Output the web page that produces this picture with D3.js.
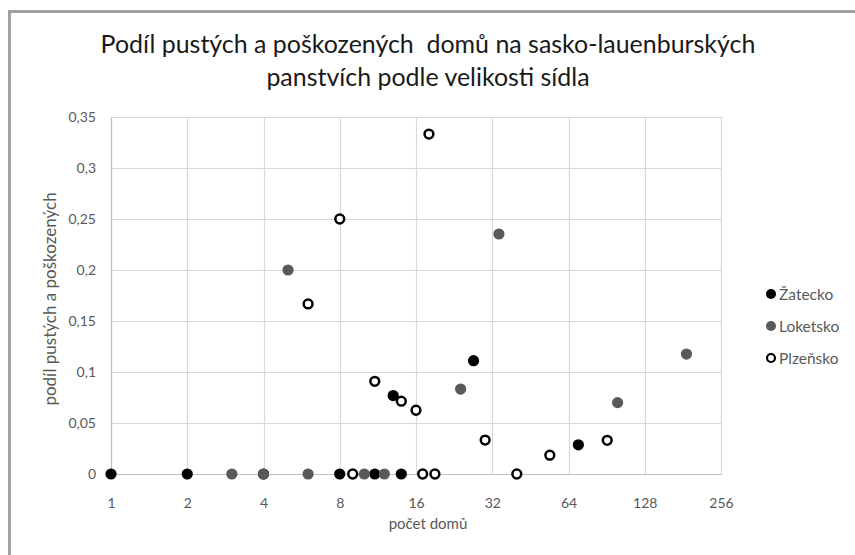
<!DOCTYPE html>
<html><head><meta charset="utf-8">
<script src="https://cdn.jsdelivr.net/npm/d3@7"></script>
<style>html,body{margin:0;padding:0;background:#fff;}svg{display:block;}</style>
</head><body>
<svg id="c" width="855" height="555"></svg>
<script>
// ---- data ----
const seriesNames = ["Žatecko", "Loketsko", "Plzeňsko"];
const zateckoX = [1, 2, 4, 8, 11, 14, 13, 27, 70];
const zateckoY = [0, 0, 0, 0, 0, 0, 0.0769, 0.1111, 0.0286];
const loketskoX = [3, 4, 5, 6, 10, 12, 24, 34, 100, 187];
const loketskoY = [0, 0, 0.2, 0, 0, 0, 0.0833, 0.2353, 0.07, 0.1176];
const plzenskoX = [6, 8, 9, 11, 14, 16, 17, 18, 19, 30, 40, 54, 91];
const plzenskoY = [0.1667, 0.25, 0, 0.0909, 0.0714, 0.0625, 0, 0.3333, 0, 0.0333, 0, 0.0185, 0.033];
const xTicks = [1, 2, 4, 8, 16, 32, 64, 128, 256];
const yTicks = [0, 0.05, 0.1, 0.15, 0.2, 0.25, 0.3, 0.35];
const titleLines = ["Podíl pustých a poškozených  domů na sasko-lauenburských", "panstvích podle velikosti sídla"];
const xTitle = "počet domů";
const yTitle = "podíl pustých a poškozených";

const series = [
  {name: seriesNames[0], xs: zateckoX, ys: zateckoY, fill: "#000000", stroke: "none"},
  {name: seriesNames[1], xs: loketskoX, ys: loketskoY, fill: "#595959", stroke: "none"},
  {name: seriesNames[2], xs: plzenskoX, ys: plzenskoY, fill: "#ffffff", stroke: "#000000"}
];

const svg = d3.select("#c");
const font = "Lato, 'Open Sans', sans-serif";
const x = d3.scaleLog().base(2).domain([1, 256]).range([111, 721]);
const y = d3.scaleLinear().domain([0, 0.35]).range([474, 117]);

// outer border
svg.append("rect").attr("x", 9.5).attr("y", 11.5).attr("width", 900).attr("height", 600)
  .attr("fill", "#fff").attr("stroke", "#a0a0a0").attr("stroke-width", 3);

// grid
const g = svg.append("g");
g.selectAll("line.h").data(yTicks).join("line")
  .attr("x1", x(1)).attr("x2", x(256)).attr("y1", d => Math.round(y(d)) + 0.5).attr("y2", d => Math.round(y(d)) + 0.5)
  .attr("stroke", "#d9d9d9").attr("stroke-width", 1.2);
g.selectAll("line.v").data(xTicks).join("line")
  .attr("y1", y(0)).attr("y2", y(0.35)).attr("x1", d => Math.round(x(d)) + 0.5).attr("x2", d => Math.round(x(d)) + 0.5)
  .attr("stroke", "#d9d9d9").attr("stroke-width", 1.2);

// axes
const fmt = d => String(+d.toFixed(2)).replace(".", ",");
const yAxis = svg.append("g").attr("transform", "translate(111,0)")
  .call(d3.axisLeft(y).tickValues(yTicks).tickFormat(fmt).tickSize(0).tickPadding(15));
const xAxis = svg.append("g").attr("transform", "translate(0,474)")
  .call(d3.axisBottom(x).tickValues(xTicks).tickFormat(d => String(d)).tickSize(0).tickPadding(24));
[yAxis, xAxis].forEach(a => {
  a.select(".domain").attr("stroke", "#bfbfbf").attr("stroke-width", 1.2);
  a.selectAll("text").attr("font-family", font).attr("font-size", 14).attr("fill", "#595959");
});

// points
series.forEach(s => {
  svg.append("g").selectAll("circle").data(s.xs.map((v, i) => [v, s.ys[i]])).join("circle")
    .attr("cx", d => x(d[0])).attr("cy", d => y(d[1]))
    .attr("r", s.stroke === "none" ? 5.6 : 4.4)
    .attr("fill", s.fill).attr("stroke", s.stroke).attr("stroke-width", s.stroke === "none" ? 0 : 2.5);
});

// title
const title = svg.append("g");
titleLines.forEach((t, i) => {
  title.append("text").attr("x", 428).attr("y", 53 + i * 33)
    .attr("text-anchor", "middle").attr("font-family", font).attr("font-size", 20)
    .attr("fill", "#1a1a1a").style("white-space", "pre").text(t);
});
const w0 = title.select("text").node().getComputedTextLength();
title.selectAll("text").attr("font-size", 20 * 655 / w0);

// axis titles
svg.append("text").attr("x", 428).attr("y", 529).attr("text-anchor", "middle")
  .attr("font-family", font).attr("font-size", 15).attr("fill", "#595959").text(xTitle);
svg.append("text").attr("transform", "translate(56,299) rotate(-90)").attr("text-anchor", "middle")
  .attr("font-family", font).attr("font-size", 17).attr("fill", "#595959").text(yTitle);

// legend
const leg = svg.append("g");
series.forEach((s, i) => {
  const cy = 294 + i * 32;
  leg.append("circle").attr("cx", 771).attr("cy", cy)
    .attr("r", s.stroke === "none" ? 5 : 4).attr("fill", s.fill).attr("stroke", s.stroke)
    .attr("stroke-width", s.stroke === "none" ? 0 : 2.2);
  leg.append("text").attr("x", 779).attr("y", cy + 5.5).attr("font-family", font).attr("font-size", 15.5)
    .attr("fill", "#595959").text(s.name);
});
</script>
</body></html>
